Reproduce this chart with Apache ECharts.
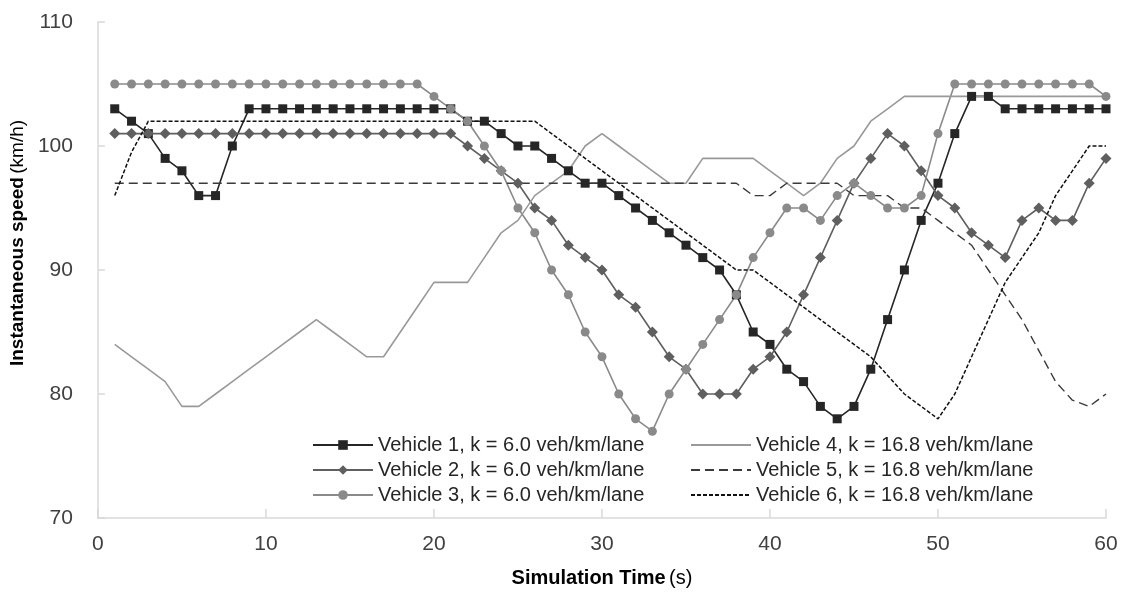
<!DOCTYPE html>
<html>
<head>
<meta charset="utf-8">
<script src="https://cdn.jsdelivr.net/npm/echarts@6/dist/echarts.min.js"></script>
<style>
html,body{margin:0;padding:0;background:#fff;}
#chart{width:1122px;height:593px;}
</style>
</head>
<body>
<div id="chart"></div>
<script>
var times = [1,2,3,4,5,6,7,8,9,10,11,12,13,14,15,16,17,18,19,20,21,22,23,24,25,26,27,28,29,30,31,32,33,34,35,36,37,38,39,40,41,42,43,44,45,46,47,48,49,50,51,52,53,54,55,56,57,58,59,60];
var seriesNames = [
  'Vehicle 1, k = 6.0 veh/km/lane',
  'Vehicle 2, k = 6.0 veh/km/lane',
  'Vehicle 3, k = 6.0 veh/km/lane',
  'Vehicle 4, k = 16.8 veh/km/lane',
  'Vehicle 5, k = 16.8 veh/km/lane',
  'Vehicle 6, k = 16.8 veh/km/lane'
];
var v1 = [103,102,101,99,98,96,96,100,103,103, 103,103,103,103,103,103,103,103,103,103, 103,102,102,101,100,100,99,98,97,97, 96,95,94,93,92,91,90,88,85,84, 82,81,79,78,79,82,86,90,94,97, 101,104,104,103,103,103,103,103,103,103];
var v2 = [101,101,101,101,101,101,101,101,101,101, 101,101,101,101,101,101,101,101,101,101, 101,100,99,98,97,95,94,92,91,90, 88,87,85,83,82,80,80,80,82,83, 85,88,91,94,97,99,101,100,98,96, 95,93,92,91,94,95,94,94,97,99];
var v3 = [105,105,105,105,105,105,105,105,105,105, 105,105,105,105,105,105,105,105,105,104, 103,102,100,98,95,93,90,88,85,83, 80,78,77,80,82,84,86,88,91,93, 95,95,94,96,97,96,95,95,96,101, 105,105,105,105,105,105,105,105,105,104];
var v4 = [84,83,82,81,79,79,80,81,82,83, 84,85,86,85,84,83,83,85,87,89, 89,89,91,93,94,96,97,98,100,101, 100,99,98,97,97,99,99,99,99,98, 97,96,97,99,100,102,103,104,104,104, 104,104,104,104,104,104,104,104,104,104];
var v5 = [97,97,97,97,97,97,97,97,97,97, 97,97,97,97,97,97,97,97,97,97, 97,97,97,97,97,97,97,97,97,97, 97,97,97,97,97,97,97,97,96,96, 97,97,97,97,96,96,96,95,95,94, 93,92,90,88,86,83.5,81,79.5,79,80];
var v6 = [96,99.5,102,102,102,102,102,102,102,102, 102,102,102,102,102,102,102,102,102,102, 102,102,102,102,102,102,101,100,99,98, 97,96,95,94,93,92,91,90,90,89, 88,87,86,85,84,83,81.5,80,79,78, 80,83,86,89,91,93,96,98,100,100];
var xTicks = [0,10,20,30,40,50,60];
var yTicks = [70,80,90,100,110];

function pairs(vals){ return times.map(function(t,i){ return [t, vals[i]]; }); }

var chart = echarts.init(document.getElementById('chart'), null, {renderer:'canvas'});
var FONT = 'Liberation Sans';
var legendText = {fontSize: 20, color: '#262626', fontFamily: FONT, lineHeight: 22};
var option = {
  animation: false,
  backgroundColor: '#ffffff',
  textStyle: {fontFamily: FONT},
  grid: {left: 97, right: 16, top: 22, bottom: 74, containLabel: false},
  xAxis: {
    type: 'value', min: xTicks[0], max: xTicks[xTicks.length-1], interval: 10,
    axisLine: {show: true, lineStyle: {color: '#d9d9d9', width: 1.5}},
    axisTick: {show: true, inside: true, length: 9, lineStyle: {color: '#d9d9d9', width: 1.5}},
    splitLine: {show: false},
    axisLabel: {color: '#404040', fontSize: 21, fontFamily: FONT, margin: 16},
    name: '{b|Simulation Time} {n|(s)}',
    nameLocation: 'middle', nameGap: 50,
    nameTextStyle: {rich: {
      b: {fontWeight: 'bold', fontSize: 20, color: '#000', fontFamily: FONT},
      n: {fontSize: 20, color: '#000', fontFamily: FONT}
    }}
  },
  yAxis: {
    type: 'value', min: yTicks[0], max: yTicks[yTicks.length-1], interval: 10,
    axisLine: {show: true, lineStyle: {color: '#d9d9d9', width: 1.5}},
    axisTick: {show: true, inside: true, length: 7, lineStyle: {color: '#d9d9d9', width: 1.5}},
    splitLine: {show: false},
    axisLabel: {color: '#404040', fontSize: 21, fontFamily: FONT, margin: 25},
    name: '{b|Instantaneous speed} {n|(km/h)}',
    nameLocation: 'middle', nameGap: 66, nameRotate: 90,
    nameTextStyle: {padding: [0,0,0,54], rich: {
      b: {fontWeight: 'bold', fontSize: 19, color: '#000', fontFamily: FONT},
      n: {fontSize: 19, color: '#000', fontFamily: FONT}
    }}
  },
  legend: [
    {
      data: seriesNames.slice(0,3), orient: 'vertical', left: 312, top: 434, padding: 0,
      itemWidth: 60, itemHeight: 12, itemGap: 3,
      textStyle: legendText
    },
    {
      data: seriesNames.slice(3,6).map(function(n){ return {name: n, itemStyle: {opacity: 0}}; }),
      orient: 'vertical', left: 690, top: 434, padding: 0,
      itemWidth: 60, itemHeight: 12, itemGap: 3,
      textStyle: legendText
    }
  ],
  series: [
    {name: seriesNames[0], type: 'line', data: pairs(v1), symbol: 'rect', symbolSize: 9,
     lineStyle: {color: '#262626', width: 1.6}, itemStyle: {color: '#262626'}},
    {name: seriesNames[1], type: 'line', data: pairs(v2), symbol: 'diamond', symbolSize: 11,
     lineStyle: {color: '#5f5f5f', width: 1.6}, itemStyle: {color: '#5f5f5f'}},
    {name: seriesNames[2], type: 'line', data: pairs(v3), symbol: 'circle', symbolSize: 9,
     lineStyle: {color: '#8a8a8a', width: 1.6}, itemStyle: {color: '#8a8a8a'}},
    {name: seriesNames[3], type: 'line', data: pairs(v4), symbol: 'none',
     lineStyle: {color: '#999999', width: 1.6}, itemStyle: {color: '#999999'}},
    {name: seriesNames[4], type: 'line', data: pairs(v5), symbol: 'none',
     lineStyle: {color: '#3a3a3a', width: 1.4, type: [9,5]}, itemStyle: {color: '#3a3a3a'}},
    {name: seriesNames[5], type: 'line', data: pairs(v6), symbol: 'none',
     lineStyle: {color: '#111111', width: 1.5, type: [4,2]}, itemStyle: {color: '#111111'}}
  ]
};
chart.setOption(option);
</script>
</body>
</html>
